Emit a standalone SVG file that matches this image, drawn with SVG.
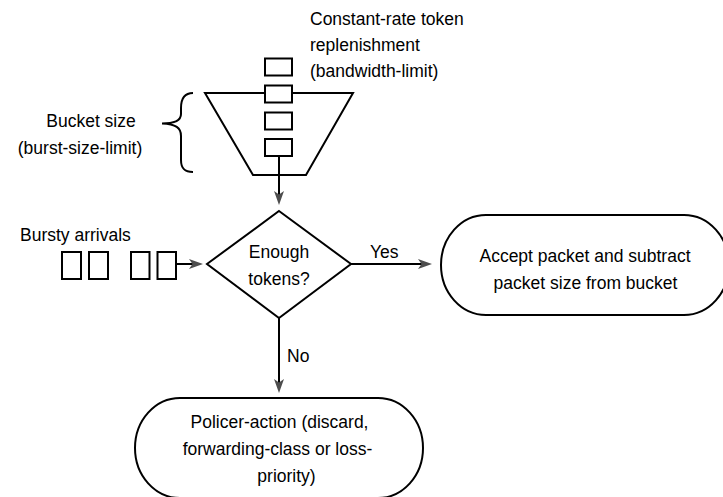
<svg xmlns="http://www.w3.org/2000/svg" width="723" height="497" viewBox="0 0 723 497">
<defs>
<marker id="ah" viewBox="0 0 14 10" refX="4" refY="5" markerWidth="14" markerHeight="10" markerUnits="userSpaceOnUse" orient="auto">
<path d="M0,0 L14,5 L0,10 L3.5,5 z" fill="#4d4d4d"/>
</marker>
</defs>
<style>
.s{fill:#fff;stroke:#000;stroke-width:2}
.n{fill:none;stroke:#000;stroke-width:2}
.c{fill:none;stroke:#000;stroke-width:2;marker-end:url(#ah)}
text{font-family:"Liberation Sans",Arial,sans-serif;font-size:17.5px;fill:#000}
.m{text-anchor:middle}
</style>
<rect width="723" height="497" fill="#fff"/>
<g id="connectors">
<line class="c" x1="279" y1="156" x2="279" y2="195"/>
<line class="c" x1="176" y1="264" x2="193" y2="264"/>
<line class="c" x1="351" y1="264" x2="422" y2="264"/>
<line class="c" x1="279" y1="318" x2="279" y2="383"/>
<text x="370" y="258">Yes</text>
<text x="287" y="362">No</text>
</g>
<g id="bucket">
<polygon class="n" points="205,93 353,93 306,175 253,175"/>
</g>
<g id="tokens">
<rect class="s" x="265" y="58.5" width="27" height="17"/>
<rect class="s" x="265" y="85.5" width="27" height="17"/>
<rect class="s" x="265" y="112.5" width="27" height="17"/>
<rect class="s" x="265" y="139" width="27" height="17"/>
</g>
<g id="replenish-label">
<text x="310" y="25">Constant-rate token</text>
<text x="310" y="51">replenishment</text>
<text x="310" y="77">(bandwidth-limit)</text>
</g>
<g id="bucket-size">
<path class="n" d="M193,93 C184,93 181,99 181,108 L181,114 C181,120 176,123.5 162,123.5 C176,124 181,128 181,136 L181,160 C181,168 184,172 193,172"/>
<text class="m" x="91" y="127">Bucket size</text>
<text class="m" x="80" y="154">(burst-size-limit)</text>
</g>
<g id="arrivals">
<text x="20" y="241">Bursty arrivals</text>
<rect class="s" x="62" y="252" width="19" height="27"/>
<rect class="s" x="89" y="252" width="19" height="27"/>
<rect class="s" x="131" y="252" width="18.5" height="27"/>
<rect class="s" x="157.5" y="252" width="18.5" height="27"/>
</g>
<g id="decision">
<polygon class="s" points="279,211 351,264 279,318 207,264"/>
<text class="m" x="279" y="258">Enough</text>
<text class="m" x="279" y="285">tokens?</text>
</g>
<g id="accept">
<rect class="s" x="441" y="215" width="288" height="100" rx="45" ry="50"/>
<text class="m" x="585" y="262">Accept packet and subtract</text>
<text class="m" x="585.5" y="289">packet size from bucket</text>
</g>
<g id="policer">
<rect class="s" x="135" y="398" width="288" height="100" rx="45" ry="50"/>
<text class="m" x="279.5" y="428">Policer-action (discard,</text>
<text class="m" x="277.5" y="455">forwarding-class or loss-</text>
<text class="m" x="286.5" y="482">priority)</text>
</g>
</svg>
